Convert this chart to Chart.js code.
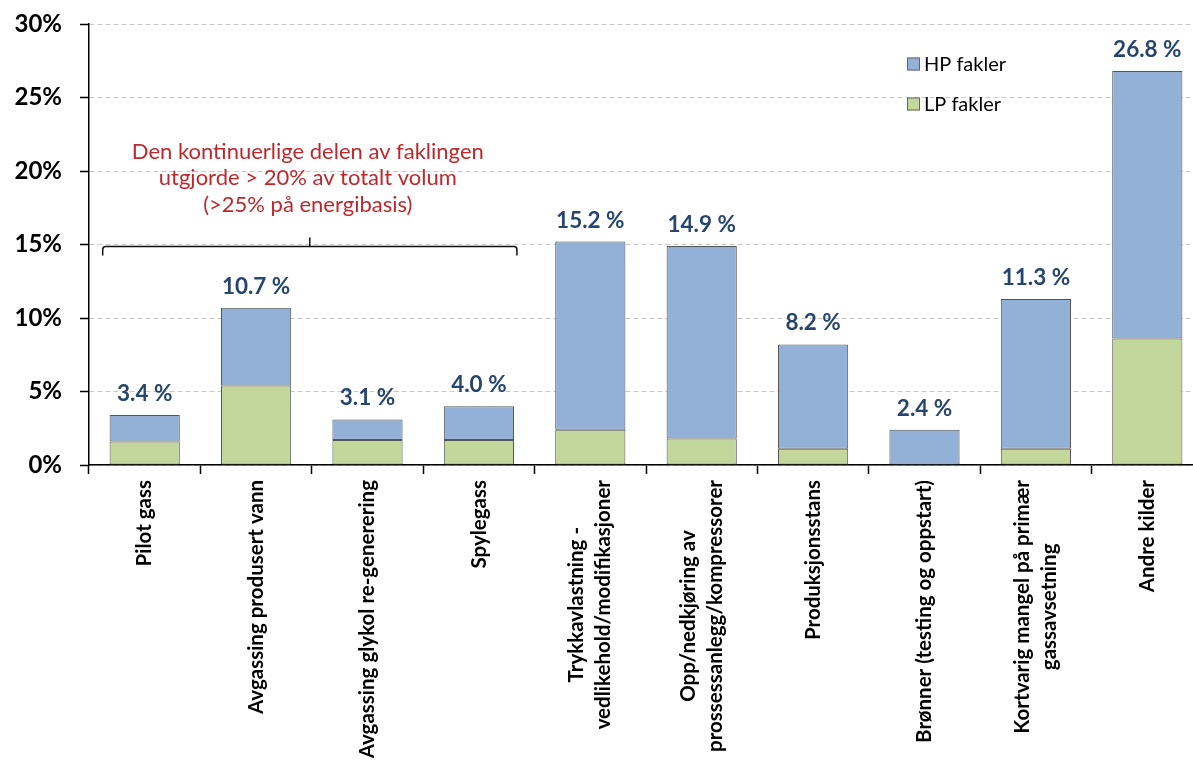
<!DOCTYPE html>
<html lang="no">
<head>
<meta charset="utf-8">
<title>Fakling fordelt på kilde</title>
<script src="https://cdn.jsdelivr.net/npm/chart.js@4.4.1/dist/chart.umd.min.js"></script>
<style>
  html, body { margin: 0; padding: 0; background: #fff; overflow: hidden; }
  #wrap { width: 1215px; height: 764px; }
</style>
</head>
<body>
<div id="wrap"><canvas id="flaringChart" width="1215" height="764"></canvas></div>
<script>
// Andel av fakling per kilde, i prosent av totalt volum
const categories = [
  ["Pilot gass"],
  ["Avgassing produsert vann"],
  ["Avgassing glykol re-generering"],
  ["Spylegass"],
  ["Trykkavlastning -", "vedlikehold/modifikasjoner"],
  ["Opp/nedkjøring av", "prossessanlegg/kompressorer"],
  ["Produksjonsstans"],
  ["Brønner (testing og oppstart)"],
  ["Kortvarig mangel på primær", "gassavsetning"],
  ["Andre kilder"],
];
const lpShare = [1.6, 5.4, 1.7, 1.7, 2.4, 1.8, 1.1, 0.0, 1.1, 8.6];
const hpShare = [1.8, 5.3, 1.4, 2.3, 12.8, 13.1, 7.1, 2.4, 10.2, 18.2];
const yTicks = [0, 5, 10, 15, 20, 25, 30];
const noteLines = [
  "Den kontinuerlige delen av faklingen",
  "utgjorde > 20% av totalt volum",
  "(>25% på energibasis)",
];

const HP_COLOR = "#93B1D6";
const LP_COLOR = "#C3D69B";
const BAR_EDGE = "#555555";
const FONT = "Lato, 'Open Sans', sans-serif";

// rotated category names, each line centred on the longest one
const categoryLabels = {
  id: "categoryLabels",
  afterDraw(chart) {
    const { ctx, chartArea } = chart;
    const xScale = chart.scales.x;
    ctx.save();
    ctx.font = "bold 20.5px " + FONT;
    ctx.fillStyle = "#000";
    ctx.textAlign = "center";
    ctx.textBaseline = "middle";
    categories.forEach((lines, i) => {
      const x = xScale.getPixelForValue(i);
      const longest = Math.max(...lines.map(l => ctx.measureText(l).width));
      ctx.save();
      ctx.translate(x, chartArea.bottom + 15);
      ctx.rotate(-Math.PI / 2);
      lines.forEach((line, j) => {
        ctx.fillText(line, -longest / 2, (j - (lines.length - 1) / 2) * 27);
      });
      ctx.restore();
    });
    ctx.restore();
  }
};

// total share above each stacked bar
const totalLabels = {
  id: "totalLabels",
  afterDatasetsDraw(chart) {
    const { ctx } = chart;
    const meta = chart.getDatasetMeta(1);
    ctx.save();
    ctx.font = "bold 22.5px " + FONT;
    ctx.fillStyle = "#27466F";
    ctx.textAlign = "center";
    ctx.textBaseline = "alphabetic";
    meta.data.forEach((bar, i) => {
      const total = lpShare[i] + hpShare[i];
      ctx.fillText(total.toFixed(1) + " %", bar.x, bar.y - 14);
    });
    ctx.restore();
  }
};

// legend box in the upper right corner (HP on top, like the stack)
const cornerLegend = {
  id: "cornerLegend",
  afterDraw(chart) {
    const { ctx } = chart;
    const items = [["HP fakler", HP_COLOR], ["LP fakler", LP_COLOR]];
    ctx.save();
    ctx.font = "20px " + FONT;
    ctx.textBaseline = "middle";
    ctx.textAlign = "left";
    items.forEach(([text, color], k) => {
      const cy = 64 + k * 40;
      ctx.fillStyle = color;
      ctx.fillRect(907, cy - 6.5, 13, 13);
      ctx.strokeStyle = "#666";
      ctx.lineWidth = 1;
      ctx.strokeRect(907.5, cy - 6, 12, 12);
      ctx.fillStyle = "#000";
      ctx.fillText(text, 924, cy + 1);
    });
    ctx.restore();
  }
};

// brace over the continuous sources with the red note
const continuousNote = {
  id: "continuousNote",
  afterDraw(chart) {
    const { ctx } = chart;
    const xScale = chart.scales.x;
    const yScale = chart.scales.y;
    const x0 = xScale.getPixelForValue(0) - 42;
    const x1 = xScale.getPixelForValue(3) + 38;
    const xc = (x0 + x1) / 2;
    const yb = yScale.getPixelForValue(15) + 2;
    ctx.save();
    ctx.strokeStyle = "#111";
    ctx.lineWidth = 1.5;
    ctx.beginPath();
    ctx.moveTo(x0, yb + 9);
    ctx.lineTo(x0, yb + 3);
    ctx.quadraticCurveTo(x0, yb, x0 + 3, yb);
    ctx.lineTo(x1 - 3, yb);
    ctx.quadraticCurveTo(x1, yb, x1, yb + 3);
    ctx.lineTo(x1, yb + 9);
    ctx.moveTo(xc, yb);
    ctx.lineTo(xc, yb - 9);
    ctx.stroke();

    ctx.font = "22px " + FONT;
    ctx.fillStyle = "#C0272D";
    ctx.textAlign = "center";
    ctx.textBaseline = "alphabetic";
    noteLines.forEach((line, j) => {
      ctx.fillText(line, xc - 2, yb - 88 + j * 26.5);
    });
    ctx.restore();
  }
};

new Chart(document.getElementById("flaringChart"), {
  type: "bar",
  data: {
    labels: categories,
    datasets: [
      {
        label: "LP fakler",
        data: lpShare,
        backgroundColor: LP_COLOR,
        borderColor: BAR_EDGE,
        borderWidth: 1,
        borderSkipped: false,
      },
      {
        label: "HP fakler",
        data: hpShare,
        backgroundColor: HP_COLOR,
        borderColor: BAR_EDGE,
        borderWidth: 1,
        borderSkipped: false,
      },
    ],
  },
  options: {
    responsive: false,
    animation: false,
    devicePixelRatio: 1,
    categoryPercentage: 1,
    barPercentage: 0.63,
    layout: { padding: { top: 24, left: 0, right: 12, bottom: 290 } },
    plugins: {
      legend: { display: false },
      tooltip: { enabled: false },
    },
    scales: {
      x: {
        stacked: true,
        offset: true,
        ticks: { display: false },
        grid: {
          offset: true,
          drawOnChartArea: false,
          tickLength: 9,
          tickColor: "#000",
          tickWidth: 1.5,
        },
        border: { color: "#000", width: 1.5 },
      },
      y: {
        stacked: true,
        min: yTicks[0],
        max: yTicks[yTicks.length - 1],
        afterBuildTicks(scale) {
          scale.ticks = yTicks.map(v => ({ value: v }));
        },
        afterFit(scale) {
          scale.width = 89;
          scale.paddingTop = 0;
          scale.paddingBottom = 0;
        },
        ticks: {
          padding: 18,
          color: "#000",
          font: { family: FONT, size: 24, weight: "bold" },
          callback: v => v + "%",
        },
        grid: {
          color: "#C8C8C8",
          lineWidth: 1,
          tickLength: 9,
          tickColor: "#000",
          tickWidth: 1.5,
          tickBorderDash: [],
        },
        border: { color: "#000", width: 1.5, dash: [5, 3] },
      },
    },
  },
  plugins: [categoryLabels, totalLabels, cornerLegend, continuousNote],
});
</script>
</body>
</html>
